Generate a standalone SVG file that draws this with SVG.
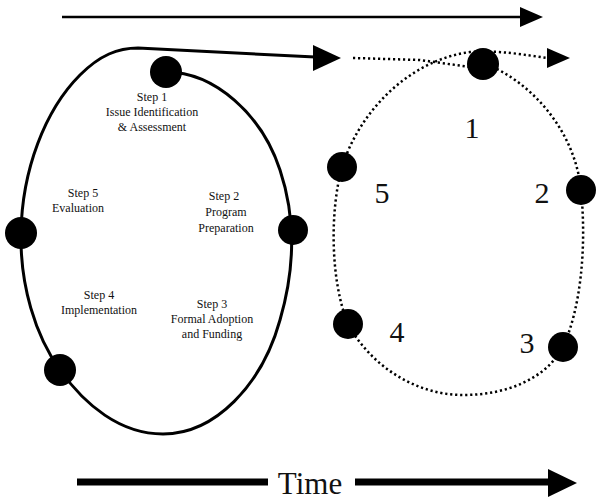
<svg xmlns="http://www.w3.org/2000/svg" width="600" height="504" viewBox="0 0 600 504">
<defs>
<style>
.lbl{font-family:"Liberation Serif","Times New Roman",serif;font-size:12px;fill:#111;text-anchor:middle}
.num{font-family:"Liberation Serif","Times New Roman",serif;font-size:30px;fill:#111;text-anchor:middle}
.dot{fill:#000}
.solid{fill:none;stroke:#000;stroke-width:3}
.dotted{fill:none;stroke:#000;stroke-width:2.5;stroke-dasharray:2.2 2.8}
.head{fill:#000}
</style>
</defs>
<rect width="600" height="504" fill="#fff"/>
<g id="connectors">
  <line x1="62" y1="17" x2="522" y2="17" stroke="#000" stroke-width="2.5"/>
  <polygon class="head" points="520,7 543,17 520,27"/>
  <path class="solid" d="M166,72 C215,72 262,115 280,170 C295,215 296,265 280,320 C262,385 215,434 163,434 C120,434 85,405 60,370 C35,335 20,285 21,233 C22,170 45,110 80,75 C100,55 118,48 138,48 L315,57"/>
  <polygon class="head" points="313,45 341,58 313,71"/>
  <path class="dotted" d="M353,58 L420,60 L470,67"/>
  <path class="dotted" d="M483,63 C530,80 575,130 581,190 C587,250 580,310 563,347 C545,380 505,395 463,395 C415,395 370,365 348,324 C330,280 330,210 342,167 C360,110 410,60 470,52 C500,50 525,55 547,58"/>
  <polygon class="head" points="547,48 570,58 547,68"/>
  <rect x="77" y="478.5" width="191" height="7" fill="#000"/>
  <rect x="355" y="478.5" width="195" height="7" fill="#000"/>
  <polygon class="head" points="548,469 577,483 548,497"/>
</g>
<g id="step1">
  <circle class="dot" cx="166" cy="72" r="16"/>
  <text class="lbl" x="152" y="101">Step 1</text>
  <text class="lbl" x="152" y="116">Issue Identification</text>
  <text class="lbl" x="152" y="131">&amp; Assessment</text>
</g>
<g id="step2">
  <circle class="dot" cx="293" cy="230" r="15"/>
  <text class="lbl" x="224" y="200">Step 2</text>
  <text class="lbl" x="226" y="216">Program</text>
  <text class="lbl" x="226" y="232">Preparation</text>
</g>
<g id="step3">
  <text class="lbl" x="212" y="308">Step 3</text>
  <text class="lbl" x="212" y="323">Formal Adoption</text>
  <text class="lbl" x="212" y="338">and Funding</text>
</g>
<g id="step4">
  <circle class="dot" cx="60" cy="370" r="16"/>
  <text class="lbl" x="99" y="299">Step 4</text>
  <text class="lbl" x="99" y="314">Implementation</text>
</g>
<g id="step5">
  <circle class="dot" cx="21" cy="233" r="16"/>
  <text class="lbl" x="83" y="197">Step 5</text>
  <text class="lbl" x="78" y="212">Evaluation</text>
</g>
<g id="r1">
  <circle class="dot" cx="483" cy="64" r="16"/>
  <text class="num" x="472" y="138">1</text>
</g>
<g id="r2">
  <circle class="dot" cx="581" cy="190" r="15"/>
  <text class="num" x="542" y="203">2</text>
</g>
<g id="r3">
  <circle class="dot" cx="563" cy="347" r="15"/>
  <text class="num" x="527" y="353">3</text>
</g>
<g id="r4">
  <circle class="dot" cx="348" cy="324" r="15"/>
  <text class="num" x="397" y="342">4</text>
</g>
<g id="r5">
  <circle class="dot" cx="342" cy="167" r="15"/>
  <text class="num" x="382" y="203">5</text>
</g>
<g id="time">
  <text x="310" y="494" font-family="Liberation Serif, Times New Roman, serif" font-size="31" fill="#111" text-anchor="middle">Time</text>
</g>
</svg>
